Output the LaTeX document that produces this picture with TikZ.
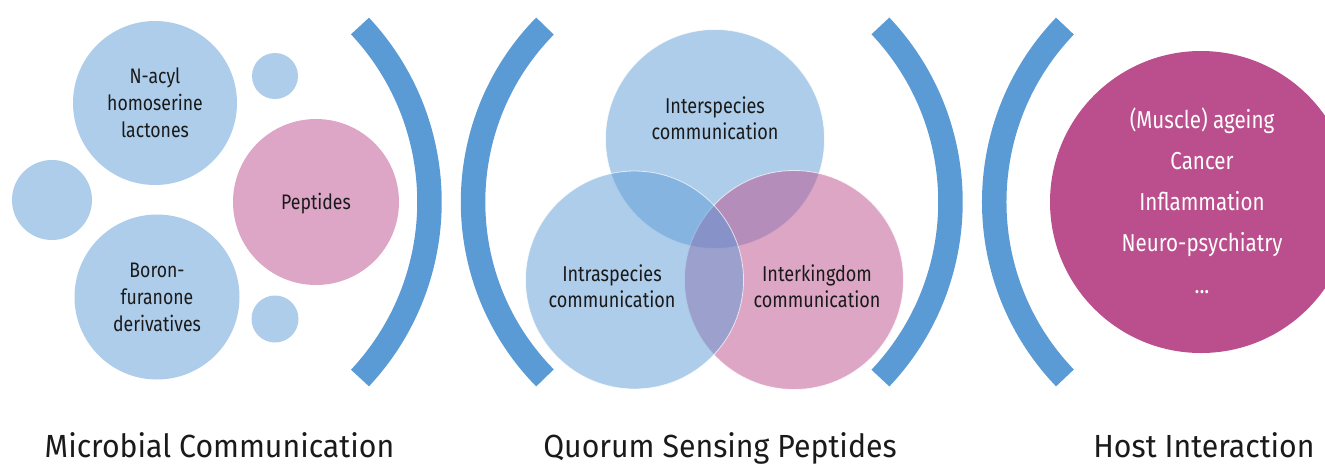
\documentclass[tikz,border=0pt]{standalone}
\usepackage{fontspec}
\setmainfont{Fira Sans}[FakeStretch=0.84]
\newfontfamily\titlefont{Fira Sans}[FakeStretch=0.945]
\definecolor{accB}{HTML}{5B9BD5}
\definecolor{lightB}{HTML}{ADCDEA}
\definecolor{lightP}{HTML}{DDA6C6}
\definecolor{hostP}{HTML}{BB4E8C}
\definecolor{txt}{HTML}{1A1A1A}
\tikzset{
  bubble/.style={circle, fill=lightB, inner sep=0pt},
  pbubble/.style={circle, fill=lightP, inner sep=0pt},
  venn/.style={circle, fill opacity=0.5, draw=white, draw opacity=0.7, line width=0.8pt, inner sep=0pt},
  bracket/.style={draw=accB, line width=24.5pt},
  lbl/.style={anchor=base, text=txt, font=\fontsize{21}{27}\selectfont, align=center, inner sep=0pt},
  vlbl/.style={anchor=base, text=txt, font=\fontsize{21.5}{26}\selectfont, align=center, inner sep=0pt},
  hlbl/.style={anchor=base, text=white, font=\fontsize{24.5}{28}\selectfont, inner sep=0pt},
  title/.style={anchor=base, text=txt, font=\titlefont\fontsize{32}{36}\selectfont, inner sep=0pt}
}
\begin{document}
\begin{tikzpicture}[x=1pt,y=-1pt]
\useasboundingbox (0,0) rectangle (1325,467);
\clip (0,0) rectangle (1325,467);
% left cluster
\node[bubble, minimum size=164pt] (nacyl) at (155,103) {};
\node[bubble, minimum size=165pt] (boron) at (157,297) {};
\node[bubble, minimum size=80pt] (sm1) at (52,200) {};
\node[bubble, minimum size=46pt] (sm2) at (275,76) {};
\node[bubble, minimum size=47pt] (sm3) at (275,319) {};
\node[pbubble, minimum size=166pt] (pep) at (316,202) {};
\node[lbl] (t1a) at (155,83) {N-acyl};
\node[lbl] (t1b) at (155,110) {homoserine};
\node[lbl] (t1c) at (155,137) {lactones};
\node[lbl] (t2a) at (157,277) {Boron-};
\node[lbl] (t2b) at (157,304) {furanone};
\node[lbl] (t2c) at (157,331) {derivatives};
\node[lbl] (tpep) at (316,209) {Peptides};
% brackets
\draw[bracket] (171.9,202) ++(-43.1:257.6) arc[start angle=-43.1, end angle=43.1, radius=257.6];
\draw[bracket] (724,202) ++(135.5:251) arc[start angle=135.5, end angle=224.5, radius=251];
\draw[bracket] (694.2,202) ++(-43.4:256.3) arc[start angle=-43.4, end angle=43.4, radius=256.3];
\draw[bracket] (1248.4,202) ++(136.2:254.2) arc[start angle=136.2, end angle=223.8, radius=254.2];
% venn
\node[venn, fill=accB, minimum size=219pt] (top) at (715,139) {};
\node[venn, fill=hostP, minimum size=219pt] (right) at (794,280) {};
\node[venn, fill=accB, minimum size=218pt] (left) at (634.5,280) {};
\node[vlbl] (v1a) at (715,113) {Interspecies};
\node[vlbl] (v1b) at (715,139) {communication};
\node[vlbl] (v2a) at (612,281) {Intraspecies};
\node[vlbl] (v2b) at (612,307) {communication};
\node[vlbl] (v3a) at (817,281) {Interkingdom};
\node[vlbl] (v3b) at (817,307) {communication};
% host
\node[circle, fill=hostP, minimum size=302pt, inner sep=0pt] (host) at (1201,202) {};
\node[hlbl] (h1) at (1202,128) {(Muscle) ageing};
\node[hlbl] (h2) at (1202,169) {Cancer};
\node[hlbl] (h3) at (1202,210) {Inflammation};
\node[hlbl] (h4) at (1202,251) {Neuro-psychiatry};
\node[hlbl] (h5) at (1202,293) {...};
% titles
\node[title] (ti1) at (219.5,457) {Microbial Communication};
\node[title] (ti2) at (720,457) {Quorum Sensing Peptides};
\node[title] (ti3) at (1204,457) {Host Interaction};
\end{tikzpicture}
\end{document}
